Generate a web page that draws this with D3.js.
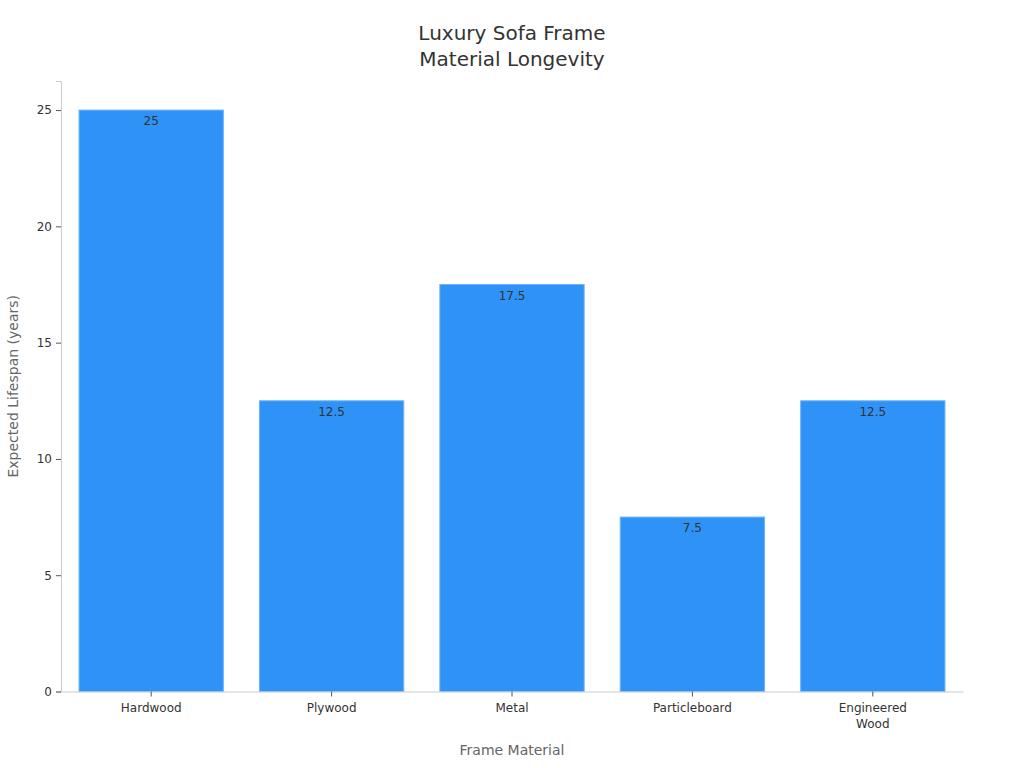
<!DOCTYPE html>
<html><head><meta charset="utf-8">
<script src="https://cdn.jsdelivr.net/npm/d3@7"></script>
<style>body{margin:0;background:#fff;font-family:"DejaVu Sans",sans-serif;}</style>
</head><body>
<svg id="chart" width="1024" height="768"></svg>
<script>
const categories = ["Hardwood", "Plywood", "Metal", "Particleboard", "Engineered Wood"];
const values = [25, 12.5, 17.5, 7.5, 12.5];
const yTicks = [0, 5, 10, 15, 20, 25];
const titleLines = ["Luxury Sofa Frame", "Material Longevity"];

const svg = d3.select("#chart");
const m = {left: 61, right: 61, top: 81, bottom: 76.5};
const W = 1024, H = 768;

const x = d3.scaleBand().domain(categories).range([m.left, W - m.right]).paddingInner(0.2).paddingOuter(0.1);
const y = d3.scaleLinear().domain([0, 26.25]).range([H - m.bottom, m.top]);

svg.append("g").selectAll("text").data(titleLines).join("text")
  .attr("x", 512).attr("y", (d,i) => 40 + i*26)
  .attr("text-anchor", "middle").attr("font-size", 20).attr("fill", "#333").text(d => d);

svg.append("g").selectAll("rect").data(values).join("rect")
  .attr("x", (d,i) => x(categories[i])).attr("width", x.bandwidth())
  .attr("y", d => y(d)).attr("height", d => y(0) - y(d))
  .attr("fill", "#2e92f6").attr("stroke", "#6fb4f8").attr("stroke-width", 1);

svg.append("g").selectAll("text").data(values).join("text")
  .attr("x", (d,i) => x(categories[i]) + x.bandwidth()/2).attr("y", d => y(d) + 15)
  .attr("text-anchor", "middle").attr("font-size", 12).attr("fill", "#333").text(d => d);

const ya = svg.append("g").attr("transform", `translate(${m.left},0)`)
  .call(d3.axisLeft(y).tickValues(yTicks).tickSize(5).tickPadding(4));
ya.select(".domain").attr("stroke", "#ccc");
ya.selectAll(".tick line").attr("stroke", "#555");
ya.selectAll(".tick text").attr("font-size", 12).attr("fill", "#333").attr("font-family", "DejaVu Sans");

const xa = svg.append("g").attr("transform", `translate(0,${H - m.bottom})`)
  .call(d3.axisBottom(x).tickSize(5).tickPadding(7).tickSizeOuter(0));
xa.select(".domain").attr("stroke", "#ccc");
xa.selectAll(".tick line").attr("stroke", "#555");
xa.selectAll(".tick text").attr("font-size", 12).attr("fill", "#333").attr("font-family", "DejaVu Sans")
  .each(function(d){
    const t = d3.select(this); const words = d.split(" ");
    if (words.length > 1) {
      t.text(null);
      words.forEach((w,i) => t.append("tspan").attr("x", 0).attr("dy", i === 0 ? "0.71em" : "1.3em").text(w));
    }
  });

svg.append("text").attr("x", (m.left + W - m.right)/2).attr("y", 755)
  .attr("text-anchor", "middle").attr("font-size", 14).attr("fill", "#666").text("Frame Material");
svg.append("text").attr("transform", `translate(18,${(m.top + H - m.bottom)/2}) rotate(-90)`)
  .attr("text-anchor", "middle").attr("font-size", 14).attr("fill", "#666").text("Expected Lifespan (years)");
</script>
</body></html>
